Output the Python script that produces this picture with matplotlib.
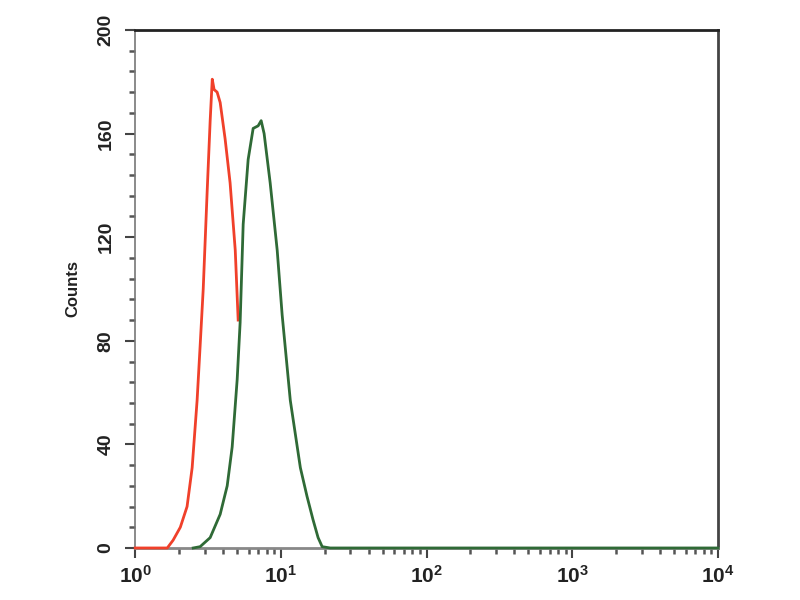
import matplotlib
matplotlib.use("Agg")
import matplotlib.pyplot as plt
from matplotlib.ticker import MultipleLocator, LogLocator, NullFormatter
import numpy as np

plt.rcParams['font.family'] = ['Liberation Sans', 'DejaVu Sans']

# Red histogram (control)
red_x = [1.00, 1.27, 1.66, 1.82, 2.04, 2.27, 2.46, 2.66, 2.79, 2.93, 3.12, 3.27,
         3.38, 3.48, 3.65, 3.83, 4.14, 4.48, 4.86, 5.09]
red_counts = [0, 0, 0, 3, 8, 16, 31, 57, 78, 100, 138, 165,
              181, 177, 176, 172, 158, 141, 115, 88]

# Green histogram (sample)
green_x = [2.50, 2.79, 3.27, 3.83, 4.28, 4.63, 5.01, 5.25, 5.51, 5.96, 6.45, 6.98,
           7.32, 7.67, 8.44, 9.43, 10.2, 11.6, 13.6, 15.1, 16.6, 18.0, 19.2, 21.8,
           65.8, 319, 1550, 10000]
green_counts = [0, 0.5, 4, 13, 24, 39, 65, 87, 125, 150, 162, 163,
                165, 160, 141, 115, 90, 57, 31, 20, 11, 4, 0.5, 0,
                0, 0, 0, 0]

x_ticks = [1, 10, 100, 1000, 10000]
x_tick_labels = [r'$\mathregular{10^{0}}$', r'$\mathregular{10^{1}}$',
                 r'$\mathregular{10^{2}}$', r'$\mathregular{10^{3}}$',
                 r'$\mathregular{10^{4}}$']
y_ticks = [0, 40, 80, 120, 160, 200]

fig = plt.figure(figsize=(8, 6), dpi=100)
ax = fig.add_axes([0.169, 0.0867, 0.7285, 0.8633])

ax.plot(red_x, red_counts, color='#f0402a', lw=2.0, clip_on=False, zorder=5)
ax.plot(green_x, green_counts, color='#2f6a36', lw=2.0, clip_on=False, zorder=6)

ax.set_xscale('log')
ax.set_xlim(1, 10000)
ax.set_ylim(0, 200)

ax.set_xticks(x_ticks)
ax.set_xticklabels(x_tick_labels)
ax.xaxis.set_minor_locator(LogLocator(base=10, subs=np.arange(2, 10)))
ax.xaxis.set_minor_formatter(NullFormatter())

ax.set_yticks(y_ticks)
ax.set_yticklabels([str(v) for v in y_ticks], rotation=90, va='center')
ax.yaxis.set_minor_locator(MultipleLocator(8))

ax.tick_params(which='major', direction='out', length=7, width=1.5, color='#444444',
               labelsize=14, labelcolor='#222222', pad=8)
ax.tick_params(which='minor', direction='out', length=4, width=1.8, color='#555555')
ax.tick_params(axis='x', which='major', labelsize=15, pad=5)

for lab in ax.get_xticklabels() + ax.get_yticklabels():
    lab.set_fontweight('bold')

ax.spines['top'].set_color('#222222')
ax.spines['top'].set_linewidth(2)
ax.spines['right'].set_color('#444444')
ax.spines['right'].set_linewidth(2)
ax.spines['left'].set_color('#777777')
ax.spines['left'].set_linewidth(1.2)
ax.spines['bottom'].set_color('#888888')
ax.spines['bottom'].set_linewidth(2)

ax.set_ylabel('Counts', fontsize=12, fontweight='bold', color='#222222', labelpad=12)

fig.savefig('out.png', dpi=100)
